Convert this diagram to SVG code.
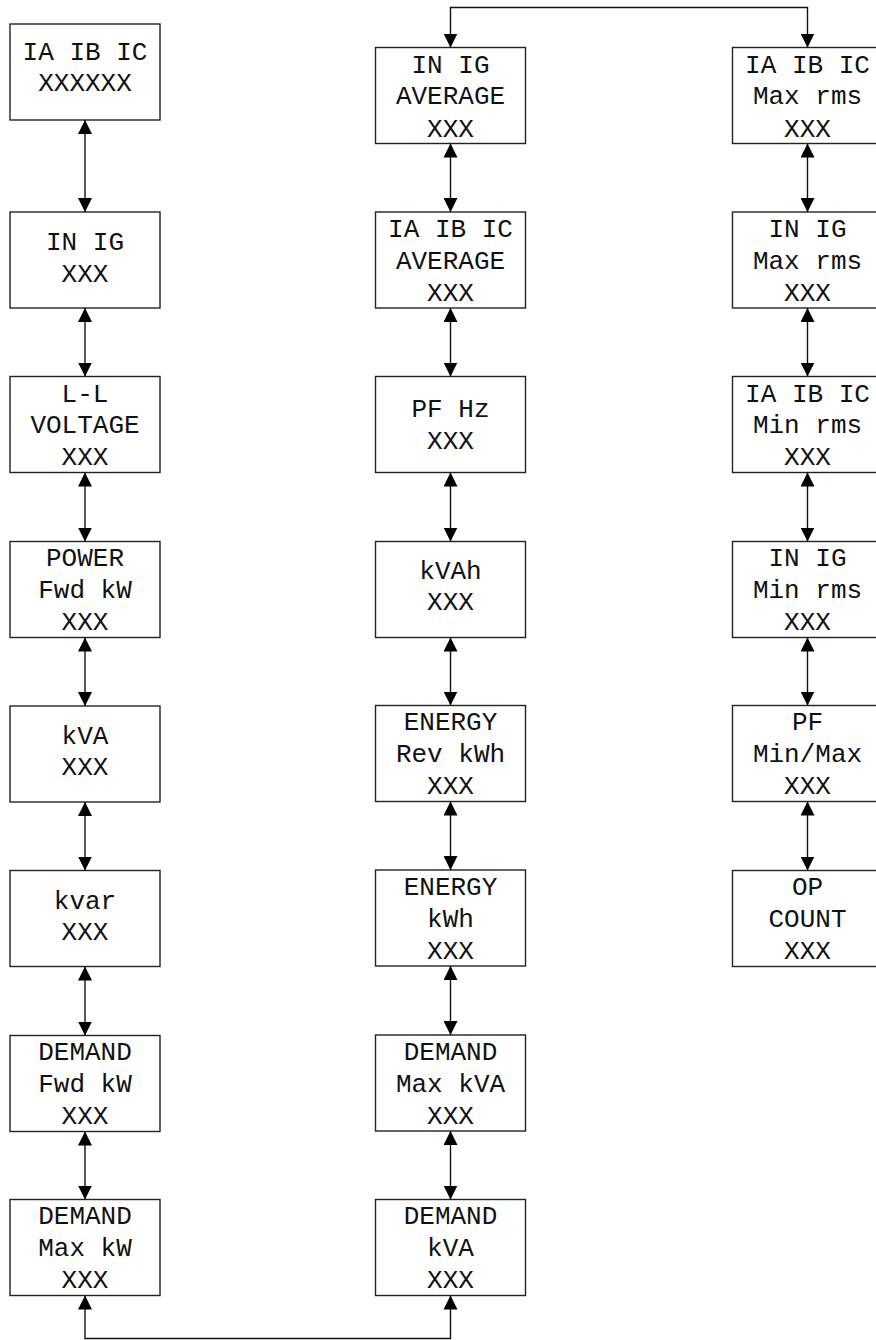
<svg xmlns="http://www.w3.org/2000/svg" width="876" height="1340" viewBox="0 0 876 1340">
  <style>
    .box { fill: #ffffff; stroke: #222222; stroke-width: 1.4; }
    .lbl { font-family: "Courier New", "Liberation Mono", monospace; font-size: 26px; fill: #111111; text-anchor: middle; }
    .wire { fill: none; stroke: #111111; stroke-width: 1.4; marker-start: url(#arrow); marker-end: url(#arrow); }
  </style>
  <defs>
    <marker id="arrow" viewBox="0 0 14 14" refX="14" refY="7" markerWidth="14" markerHeight="14" markerUnits="userSpaceOnUse" orient="auto-start-reverse">
      <path d="M0,0 L14,7 L0,14 z" fill="#000000"/>
    </marker>
  </defs>
  <rect width="876" height="1340" fill="#ffffff"/>

  <!-- connectors -->
  <g id="connectors">
    <!-- left column -->
    <path class="wire" d="M85,120 V212"/>
    <path class="wire" d="M85,308 V376.5"/>
    <path class="wire" d="M85,472.5 V541.5"/>
    <path class="wire" d="M85,637.5 V706"/>
    <path class="wire" d="M85,802 V870.5"/>
    <path class="wire" d="M85,966.5 V1035.5"/>
    <path class="wire" d="M85,1131.5 V1199.5"/>
    <!-- middle column -->
    <path class="wire" d="M450.5,143.5 V212"/>
    <path class="wire" d="M450.5,308 V376.5"/>
    <path class="wire" d="M450.5,472.5 V541.5"/>
    <path class="wire" d="M450.5,637.5 V705.5"/>
    <path class="wire" d="M450.5,801.5 V870"/>
    <path class="wire" d="M450.5,966 V1035"/>
    <path class="wire" d="M450.5,1131 V1199.5"/>
    <!-- right column -->
    <path class="wire" d="M807.5,143.5 V212"/>
    <path class="wire" d="M807.5,308 V376.5"/>
    <path class="wire" d="M807.5,472.5 V541.5"/>
    <path class="wire" d="M807.5,637.5 V705.5"/>
    <path class="wire" d="M807.5,801.5 V870.5"/>
    <!-- column links -->
    <path class="wire" d="M450.5,47.5 V7.5 H807.5 V47.5"/>
    <path class="wire" d="M85,1295.5 V1338.5 H450.5 V1295.5"/>
  </g>

  <!-- left column -->
  <g id="n-ia-ib-ic">
    <rect class="box" x="10" y="24" width="150" height="96"/>
    <text class="lbl" x="85" y="60">IA IB IC</text>
    <text class="lbl" x="85" y="91">XXXXXX</text>
  </g>
  <g id="n-in-ig">
    <rect class="box" x="10" y="212" width="150" height="96"/>
    <text class="lbl" x="85" y="250">IN IG</text>
    <text class="lbl" x="85" y="281.5">XXX</text>
  </g>
  <g id="n-ll-voltage">
    <rect class="box" x="10" y="376.5" width="150" height="96"/>
    <text class="lbl" x="85" y="401.5">L-L</text>
    <text class="lbl" x="85" y="433">VOLTAGE</text>
    <text class="lbl" x="85" y="465">XXX</text>
  </g>
  <g id="n-power-fwd-kw">
    <rect class="box" x="10" y="541.5" width="150" height="96"/>
    <text class="lbl" x="85" y="566">POWER</text>
    <text class="lbl" x="85" y="598">Fwd kW</text>
    <text class="lbl" x="85" y="630">XXX</text>
  </g>
  <g id="n-kva">
    <rect class="box" x="10" y="706" width="150" height="96"/>
    <text class="lbl" x="85" y="743.5">kVA</text>
    <text class="lbl" x="85" y="775">XXX</text>
  </g>
  <g id="n-kvar">
    <rect class="box" x="10" y="870.5" width="150" height="96"/>
    <text class="lbl" x="85" y="909">kvar</text>
    <text class="lbl" x="85" y="940">XXX</text>
  </g>
  <g id="n-demand-fwd-kw">
    <rect class="box" x="10" y="1035.5" width="150" height="96"/>
    <text class="lbl" x="85" y="1060">DEMAND</text>
    <text class="lbl" x="85" y="1092">Fwd kW</text>
    <text class="lbl" x="85" y="1124">XXX</text>
  </g>
  <g id="n-demand-max-kw">
    <rect class="box" x="10" y="1199.5" width="150" height="96"/>
    <text class="lbl" x="85" y="1224">DEMAND</text>
    <text class="lbl" x="85" y="1256">Max kW</text>
    <text class="lbl" x="85" y="1288">XXX</text>
  </g>

  <!-- middle column -->
  <g id="n-in-ig-average">
    <rect class="box" x="375.5" y="47.5" width="150" height="96"/>
    <text class="lbl" x="450.5" y="72.5">IN IG</text>
    <text class="lbl" x="450.5" y="104">AVERAGE</text>
    <text class="lbl" x="450.5" y="136.5">XXX</text>
  </g>
  <g id="n-ia-ib-ic-average">
    <rect class="box" x="375.5" y="212" width="150" height="96"/>
    <text class="lbl" x="450.5" y="237">IA IB IC</text>
    <text class="lbl" x="450.5" y="269">AVERAGE</text>
    <text class="lbl" x="450.5" y="301">XXX</text>
  </g>
  <g id="n-pf-hz">
    <rect class="box" x="375.5" y="376.5" width="150" height="96"/>
    <text class="lbl" x="450.5" y="417">PF Hz</text>
    <text class="lbl" x="450.5" y="449">XXX</text>
  </g>
  <g id="n-kvah">
    <rect class="box" x="375.5" y="541.5" width="150" height="96"/>
    <text class="lbl" x="450.5" y="579">kVAh</text>
    <text class="lbl" x="450.5" y="610">XXX</text>
  </g>
  <g id="n-energy-rev-kwh">
    <rect class="box" x="375.5" y="705.5" width="150" height="96"/>
    <text class="lbl" x="450.5" y="730">ENERGY</text>
    <text class="lbl" x="450.5" y="762">Rev kWh</text>
    <text class="lbl" x="450.5" y="794">XXX</text>
  </g>
  <g id="n-energy-kwh">
    <rect class="box" x="375.5" y="870" width="150" height="96"/>
    <text class="lbl" x="450.5" y="895">ENERGY</text>
    <text class="lbl" x="450.5" y="927">kWh</text>
    <text class="lbl" x="450.5" y="959">XXX</text>
  </g>
  <g id="n-demand-max-kva">
    <rect class="box" x="375.5" y="1035" width="150" height="96"/>
    <text class="lbl" x="450.5" y="1060">DEMAND</text>
    <text class="lbl" x="450.5" y="1092">Max kVA</text>
    <text class="lbl" x="450.5" y="1124">XXX</text>
  </g>
  <g id="n-demand-kva">
    <rect class="box" x="375.5" y="1199.5" width="150" height="96"/>
    <text class="lbl" x="450.5" y="1224">DEMAND</text>
    <text class="lbl" x="450.5" y="1256">kVA</text>
    <text class="lbl" x="450.5" y="1288">XXX</text>
  </g>

  <!-- right column -->
  <g id="n-ia-ib-ic-max-rms">
    <rect class="box" x="732.5" y="47.5" width="150" height="96"/>
    <text class="lbl" x="807.5" y="72.5">IA IB IC</text>
    <text class="lbl" x="807.5" y="104">Max rms</text>
    <text class="lbl" x="807.5" y="136.5">XXX</text>
  </g>
  <g id="n-in-ig-max-rms">
    <rect class="box" x="732.5" y="212" width="150" height="96"/>
    <text class="lbl" x="807.5" y="237">IN IG</text>
    <text class="lbl" x="807.5" y="269">Max rms</text>
    <text class="lbl" x="807.5" y="301">XXX</text>
  </g>
  <g id="n-ia-ib-ic-min-rms">
    <rect class="box" x="732.5" y="376.5" width="150" height="96"/>
    <text class="lbl" x="807.5" y="401.5">IA IB IC</text>
    <text class="lbl" x="807.5" y="433">Min rms</text>
    <text class="lbl" x="807.5" y="465">XXX</text>
  </g>
  <g id="n-in-ig-min-rms">
    <rect class="box" x="732.5" y="541.5" width="150" height="96"/>
    <text class="lbl" x="807.5" y="566">IN IG</text>
    <text class="lbl" x="807.5" y="598">Min rms</text>
    <text class="lbl" x="807.5" y="630">XXX</text>
  </g>
  <g id="n-pf-min-max">
    <rect class="box" x="732.5" y="705.5" width="150" height="96"/>
    <text class="lbl" x="807.5" y="730">PF</text>
    <text class="lbl" x="807.5" y="762">Min/Max</text>
    <text class="lbl" x="807.5" y="794">XXX</text>
  </g>
  <g id="n-op-count">
    <rect class="box" x="732.5" y="870.5" width="150" height="96"/>
    <text class="lbl" x="807.5" y="895">OP</text>
    <text class="lbl" x="807.5" y="927">COUNT</text>
    <text class="lbl" x="807.5" y="959">XXX</text>
  </g>
</svg>
